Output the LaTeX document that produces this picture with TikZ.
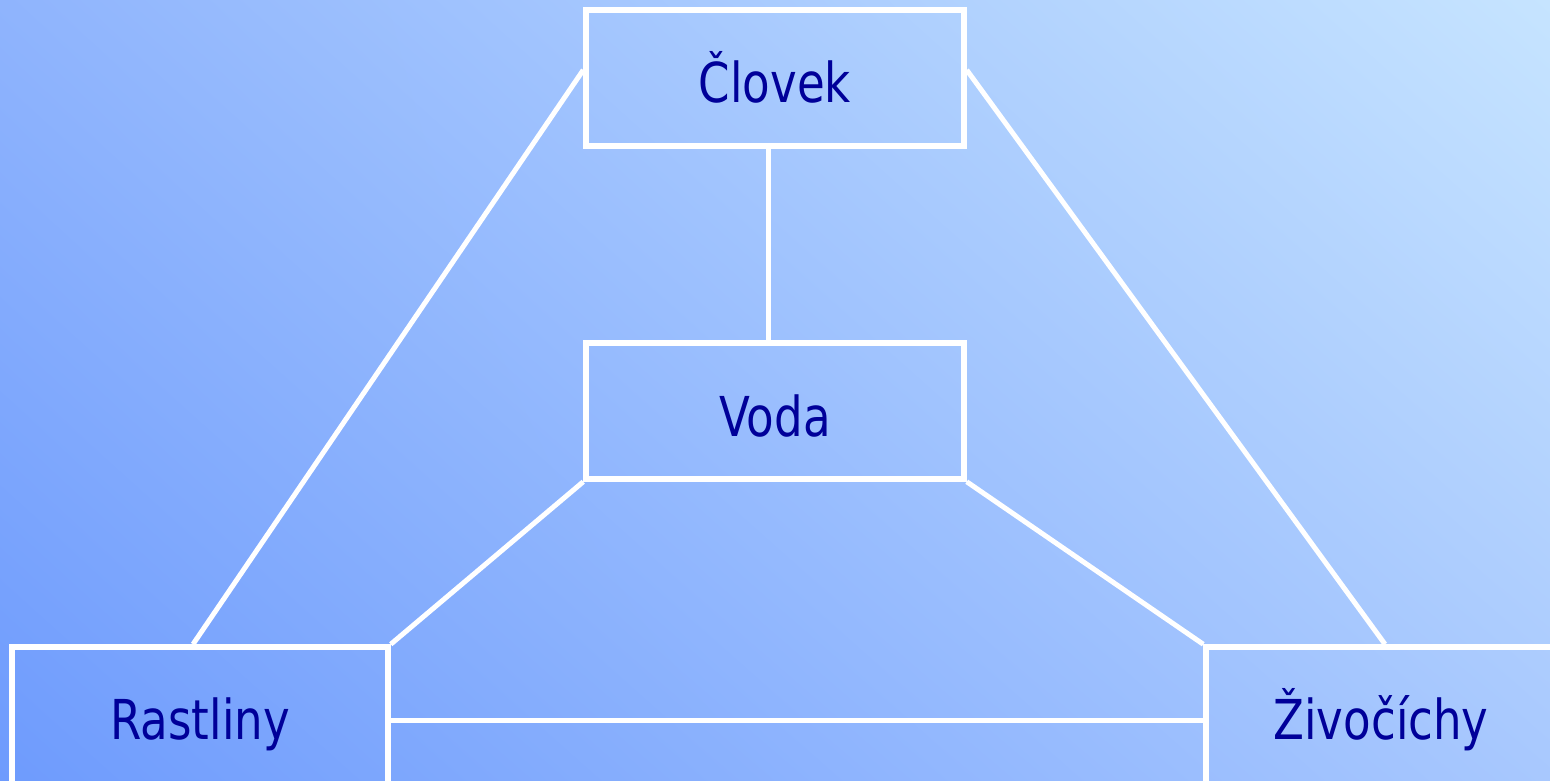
\documentclass[tikz,border=0pt]{standalone}
\usepackage{fontspec}
\usetikzlibrary{shadings}
\setmainfont{DejaVu Sans}[FakeStretch=0.82]
\definecolor{bgTL}{HTML}{8FB4FD}
\definecolor{bgTR}{HTML}{C6E4FF}
\definecolor{bgBL}{HTML}{6E9BFD}
\definecolor{bgBR}{HTML}{A8C8FE}
\definecolor{txt}{HTML}{000099}
\begin{document}
\begin{tikzpicture}[x=1pt,y=-1pt,
  box/.style={draw=white,line width=5.5pt,rectangle,inner sep=0pt,
    text=txt,font=\fontsize{55}{66}\selectfont},
  topbox/.style={box,minimum width=378pt,minimum height=136pt,text height=50pt,text depth=0pt},
  botbox/.style={box,minimum height=200pt,text height=0pt,text depth=16pt},
  link/.style={draw=white,line width=5pt}]
\useasboundingbox (0,0) rectangle (1550,781);
\clip (0,0) rectangle (1550,781);
\shade[upper left=bgTL,upper right=bgTR,lower left=bgBL,lower right=bgBR] (0,0) rectangle (1550,781);
\node[topbox] (clovek) at (775,78) {Človek};
\node[topbox] (voda) at (775,411) {Voda};
\node[botbox,minimum width=376pt] (rast) at (200,747) {Rastliny};
\node[botbox,minimum width=350pt] (ziv) at (1381,747) {Živočíchy};
\draw[link] ([xshift=-7pt]clovek.south) -- ([xshift=-7pt]voda.north);
\draw[link] ([yshift=8pt]clovek.west) -- ([xshift=-7pt]rast.north);
\draw[link] ([yshift=8pt]clovek.east) -- ([xshift=4pt]ziv.north);
\draw[link] (voda.south west) -- (rast.north east);
\draw[link] (voda.south east) -- (ziv.north west);
\draw[link] ([yshift=27pt]rast.east) -- ([yshift=27pt]ziv.west);
\end{tikzpicture}
\end{document}
